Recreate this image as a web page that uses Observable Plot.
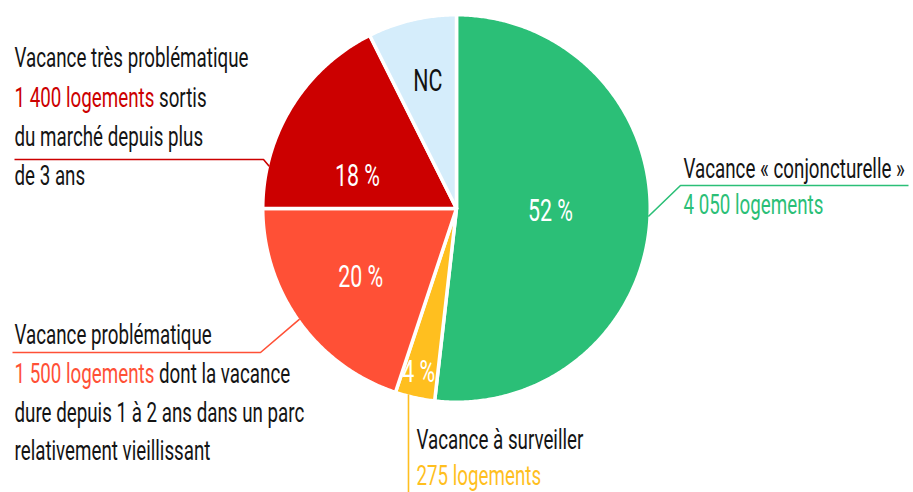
<!DOCTYPE html>
<html><head><meta charset="utf-8">
<script src="https://cdn.jsdelivr.net/npm/d3@7"></script>
<script src="https://cdn.jsdelivr.net/npm/@observablehq/plot@0.6"></script>
<style>html,body{margin:0;padding:0;background:#fff}svg text{white-space:pre}</style>
</head><body><div id="chart"></div>
<script>
// ---- data ----
const categories = ["Vacance « conjoncturelle »", "Vacance à surveiller", "Vacance problématique", "Vacance très problématique", "NC"];
const shares = [51.8, 3.3, 19.9, 17.6, 7.4];           // % of the pie
const sliceLabels = ["52 %", "4 %", "20 %", "18 %", "NC"];
const colors = ["#2bbf77", "#ffbf1f", "#ff5036", "#cc0000", "#d5edfb"];
const labelColors = ["#ffffff", "#ffffff", "#ffffff", "#ffffff", "#111111"];
// annotation lines: [highlighted part, rest]
const noteLines = [
  [["", "Vacance « conjoncturelle »"], ["4 050 logements", ""]],
  [["", "Vacance à surveiller"], ["275 logements", ""]],
  [["", "Vacance problématique"], ["1 500 logements", " dont la vacance"], ["", "dure depuis 1 à 2 ans dans un parc"], ["", "relativement vieillissant"]],
  [["", "Vacance très problématique"], ["1 400 logements", " sortis"], ["", "du marché depuis plus"], ["", "de 3 ans"]]
];

// ---- layout (px units around the pie centre, y downwards) ----
const W = 913, H = 492, CX = 456, CY = 208;
const R = 192, SEP = 3.5, Rg = R + SEP / 2;
const labelPlace = [{a: 91.8, r: 94}, {a: 193, r: 168}, {a: 234.3, r: 118}, {a: 287.9, r: 104}, {a: 347.4, r: 131}];
const noteLayout = [
  {slice: 0, x: 227, baselines: [-31, 5], edgeAngle: 92.4, path: [[224, -23], [452, -23]]},
  {slice: 1, x: -40, baselines: [240, 276], edgeAngle: 194.48, path: "down"},
  {slice: 2, x: -442, baselines: [135, 174, 213, 251], edgeAngle: 234.8, path: [[-196, 144], [-444, 144]]},
  {slice: 3, x: -442, baselines: [-142, -102, -63, -24], edgeAngle: 282.7, path: [[-193, -49], [-442, -49]]}
];
const FONT = "Roboto";
const rad = (d) => d * Math.PI / 180;

// pie polygons
const slicePts = [];
let acc = 0;
shares.forEach((s, i) => {
  const a0 = acc / 100 * 360, a1 = (acc + s) / 100 * 360; acc += s;
  const n = Math.max(2, Math.ceil((a1 - a0) / 0.5));
  slicePts.push({i, x: 0, y: 0, color: colors[i]});
  for (let k = 0; k <= n; k++) {
    const a = rad(a0 + (a1 - a0) * k / n);
    slicePts.push({i, x: Rg * Math.sin(a), y: -Rg * Math.cos(a), color: colors[i]});
  }
  slicePts.push({i, x: 0, y: 0, color: colors[i]});
});
const labelData = sliceLabels.map((t, i) => ({
  text: t, color: labelColors[i],
  x: labelPlace[i].r * Math.sin(rad(labelPlace[i].a)),
  y: -labelPlace[i].r * Math.cos(rad(labelPlace[i].a))
}));

// annotations
const lineData = [], leaderPts = [];
noteLayout.forEach((L, k) => {
  const col = colors[L.slice];
  noteLines[L.slice].forEach(([hl, rest], j) => {
    lineData.push({x: L.x, y: L.baselines[j], hl, rest, color: col, full: hl + rest});
  });
  const E = [R * Math.sin(rad(L.edgeAngle)), -R * Math.cos(rad(L.edgeAngle))];
  const pts = L.path === "down" ? [E, [E[0], H - CY]] : [E, ...L.path];
  pts.forEach(([x, y]) => leaderPts.push({k, x, y, color: col}));
});

const svg = Plot.plot({
  width: W, height: H, margin: 0,
  x: {domain: [-CX, W - CX], axis: null},
  y: {domain: [H - CY, -CY], axis: null},
  color: {type: "identity"},
  style: {background: "#fff"},
  marks: [
    Plot.line(slicePts, {x: "x", y: "y", z: "i", fill: "color", stroke: "white", strokeWidth: SEP, curve: "linear"}),
    Plot.line(leaderPts, {x: "x", y: "y", z: "k", stroke: "color", strokeWidth: 1.6, strokeLinecap: "butt", strokeLinejoin: "miter"}),
    Plot.text(labelData, {x: "x", y: "y", text: "text", fill: "color", fontFamily: FONT, fontSize: 31, textAnchor: "middle", lineAnchor: "middle"}),
    Plot.text(lineData, {x: "x", y: "y", text: "full", fill: "#141414", fontFamily: FONT, fontSize: 28, textAnchor: "start", lineAnchor: "bottom"})
  ]
});

const ctx = document.createElement("canvas").getContext("2d");
ctx.font = `28px ${FONT}`;
const sxNote = 234 / ctx.measureText("Vacance très problématique").width;
ctx.font = `31px ${FONT}`;
const sxLab = 45 / ctx.measureText("52 %").width;
const ns = "http://www.w3.org/2000/svg";
const groups = svg.querySelectorAll('g[aria-label="text"]');
function squeeze(g, sx) {
  g.querySelectorAll("text").forEach(t => {
    let tr = t.getAttribute("transform");
    if (!tr) {
      const x = t.getAttribute("x") || 0, y = t.getAttribute("y") || 0;
      t.removeAttribute("x"); t.removeAttribute("y");
      tr = `translate(${x},${y})`;
    }
    t.setAttribute("transform", tr + ` scale(${sx},1)`);
  });
}
squeeze(groups[0], sxLab);
squeeze(groups[1], sxNote);
groups[1].querySelectorAll("text").forEach(t => {
  const line = lineData.find(l => l.hl && l.full === t.textContent);
  if (!line) return;
  t.textContent = "";
  const a = document.createElementNS(ns, "tspan");
  a.setAttribute("fill", line.color); a.textContent = line.hl; t.appendChild(a);
  if (line.rest) { const b = document.createElementNS(ns, "tspan"); b.textContent = line.rest; t.appendChild(b); }
});
document.getElementById("chart").appendChild(svg);
</script>
</body></html>
